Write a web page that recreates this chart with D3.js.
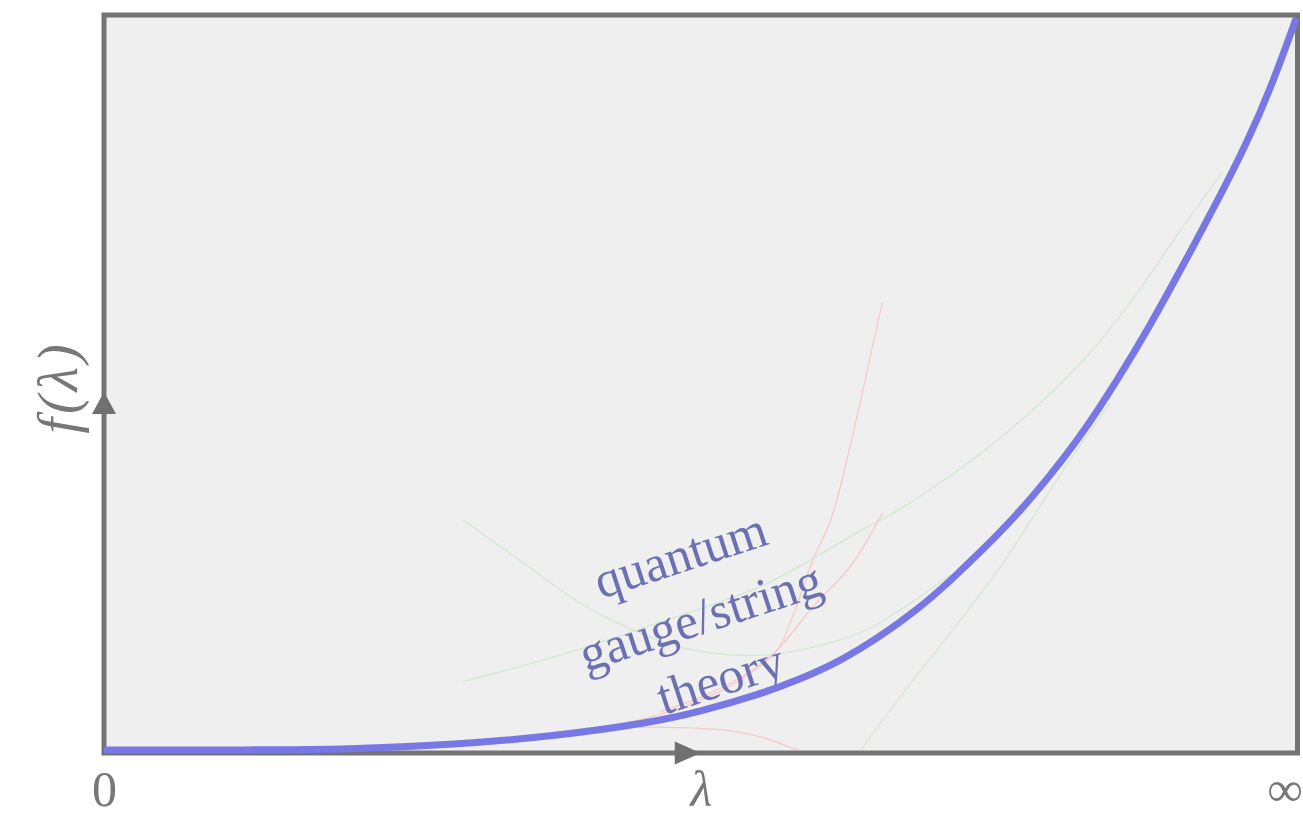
<!DOCTYPE html>
<html>
<head>
<meta charset="utf-8">
<script src="https://cdn.jsdelivr.net/npm/d3@7"></script>
<style>
  body { margin: 0; background: #fff; }
  svg { display: block; }
</style>
</head>
<body>
<svg></svg>
<script>
var width = 1303,
  height = 816;

// coupling lambda and f(lambda), both on a 0..100 scale
var tickValues = [0, 50, 100];
var tickLabels = ["0", "\u03bb", "\u221e"];
var yLabel = "f(\u03bb)";
var yArrowAt = 48.7;
var textLines = ["quantum", "gauge/string", "theory"];

// the thick blue curve
var mainX = [0, 12.2, 20.6, 29.0, 37.4, 45.8, 49.9, 55.0, 58.3, 61.7, 65.0, 68.1, 70.9, 73.6, 76.5, 79.3, 81.8, 84.9, 87.6, 90.4, 93.3, 95.8, 97.9, 99.9];
var mainY = [0, 0, 0.1, 0.7, 1.8, 3.7, 5.2, 7.6, 9.6, 12.1, 15.4, 19.0, 23.0, 27.2, 32.0, 37.4, 42.6, 50.3, 57.6, 65.9, 74.7, 82.7, 90.6, 99.6];

// faint green approximations
var greenAX = [30.1, 38.2, 46.6, 55.2, 62.5, 67.6, 74.9, 82.1, 86.3, 90.4, 93.7];
var greenAY = [9.3, 12.9, 17.4, 22.4, 29.0, 33.7, 42.2, 53.1, 61.6, 71.2, 78.6];
var greenBX = [30.1, 35.7, 39.9, 43.0, 48.5, 55.2, 60.9, 64.2, 67.6, 70.9];
var greenBY = [31.3, 24.8, 20.0, 17.3, 13.9, 12.9, 14.6, 16.6, 20.0, 23.8];
var greenCX = [63.4, 66.7, 70.9, 75.1, 79.3, 82.1, 84.3];
var greenCY = [0, 7.2, 15.9, 24.9, 35.4, 42.2, 47.2];

// faint red approximations
var redAX = [65.2, 64.2, 62.5, 60.9, 59.4, 57.9, 56.4, 53.3, 50.0, 45.8, 41.6];
var redAY = [60.8, 53.5, 41.2, 31.3, 25.9, 19.0, 13.6, 9.5, 6.8, 4.5, 3.0];
var redBX = [65.2, 62.5, 59.4, 56.4, 53.7, 50.0, 46.6];
var redBY = [32.2, 24.9, 19.5, 13.6, 10.2, 7.2, 5.2];
var redCX = [44.9, 49.1, 52.5, 55.0, 58.1];
var redCY = [3.1, 3.0, 2.6, 1.8, 0];

function pts(xs, ys) {
  return xs.map(function(v, i) {
    return [v, ys[i]];
  });
}

var svg = d3.select("svg")
  .attr("width", width)
  .attr("height", height);

var x = d3.scaleLinear().domain([0, 100]).range([104, 1297.5]);
var y = d3.scaleLinear().domain([0, 100]).range([750, 15]);
var frameBottom = 753;

var line = d3.line()
  .x(function(d) { return x(d[0]); })
  .y(function(d) { return y(d[1]); })
  .curve(d3.curveCatmullRom.alpha(0.5));

// plot background
svg.append("rect")
  .attr("x", x(0))
  .attr("y", y(100))
  .attr("width", x(100) - x(0))
  .attr("height", frameBottom - y(100))
  .attr("fill", "#efefef");

var faint = [
  { data: pts(greenAX, greenAY), color: "#d1e9d1" },
  { data: pts(greenBX, greenBY), color: "#d1e9d1" },
  { data: pts(greenCX, greenCY), color: "#d1e9d1" },
  { data: pts(redAX, redAY), color: "#f6caca" },
  { data: pts(redBX, redBY), color: "#f6caca" },
  { data: pts(redCX, redCY), color: "#f6caca" }
];

svg.append("g")
  .selectAll("path")
  .data(faint)
  .enter().append("path")
  .attr("d", function(d) { return line(d.data); })
  .attr("fill", "none")
  .attr("stroke", function(d) { return d.color; })
  .attr("stroke-width", 1.3);

// frame
svg.append("rect")
  .attr("x", x(0))
  .attr("y", y(100))
  .attr("width", x(100) - x(0))
  .attr("height", frameBottom - y(100))
  .attr("fill", "none")
  .attr("stroke", "#747474")
  .attr("stroke-width", 5);

// rotated label
var label = svg.append("g")
  .attr("transform", "translate(702,622) rotate(-18)");

label.selectAll("text")
  .data(textLines)
  .enter().append("text")
  .attr("x", 0)
  .attr("y", function(d, i) { return (i - 1) * 65; })
  .attr("text-anchor", "middle")
  .attr("dominant-baseline", "middle")
  .style("font-family", "'Liberation Serif', 'Times New Roman', serif")
  .style("font-size", "51px")
  .style("fill", "#6a70b2")
  .text(function(d) { return d; });

// main curve
svg.append("path")
  .datum(pts(mainX, mainY))
  .attr("d", d3.line()
    .x(function(d) { return x(d[0]); })
    .y(function(d) { return y(d[1]); })
    .curve(d3.curveBasis))
  .attr("fill", "none")
  .attr("stroke", "#7777e6")
  .attr("stroke-width", 7);

// arrows on the axes
svg.append("path")
  .attr("d", "M" + x(50) + "," + frameBottom + "l-26,-11.5v23z")
  .attr("fill", "#707070");

svg.append("path")
  .attr("d", "M" + x(0) + "," + y(yArrowAt) + "l-12,22h24z")
  .attr("fill", "#707070");

// bottom axis labels
var xAxis = svg.append("g")
  .attr("transform", "translate(0," + frameBottom + ")")
  .call(d3.axisBottom(x)
    .tickValues(tickValues)
    .tickFormat(function(d, i) { return tickLabels[i]; })
    .tickSize(0));

xAxis.select(".domain").remove();

xAxis.selectAll("text")
  .attr("y", 53)
  .attr("dy", null)
  .style("font-family", "'Liberation Serif', 'Times New Roman', serif")
  .style("font-size", "50px")
  .style("font-style", function(d) { return d === 50 ? "italic" : "normal"; })
  .style("fill", "#777");

// keep the infinity sign inside the page
xAxis.selectAll(".tick")
  .filter(function(d) { return d === 100; })
  .select("text")
  .attr("text-anchor", "end")
  .attr("x", 5);

// y label
svg.append("text")
  .attr("transform", "translate(77,387) rotate(-90)")
  .attr("text-anchor", "middle")
  .style("font-family", "'Liberation Serif', 'Times New Roman', serif")
  .style("font-size", "56px")
  .style("font-style", "italic")
  .style("letter-spacing", "4px")
  .style("fill", "#777")
  .text(yLabel);
</script>
</body>
</html>
